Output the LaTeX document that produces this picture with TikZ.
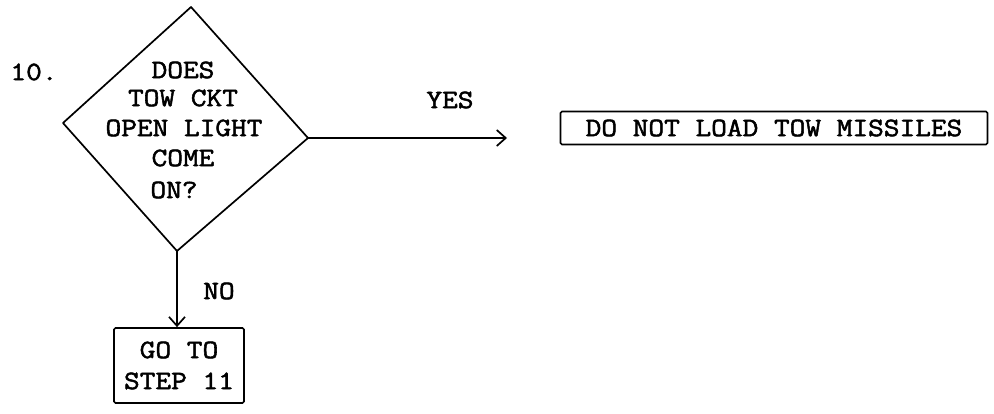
\documentclass[tikz,border=0pt]{standalone}
\usepackage{fontspec}
\setmonofont{Latin Modern Mono}[FakeStretch=1.15,FakeBold=2]
\usetikzlibrary{arrows.meta}
\begin{document}
\begin{tikzpicture}[x=1pt,y=-1pt,
  every node/.style={font=\ttfamily\fontsize{26.5}{31}\selectfont, inner sep=0pt},
  line/.style={line width=1.7pt, line join=round},
  arr/.style={line, -{Straight Barb[length=9pt,width=16pt,line width=1.7pt]}},
  boxed/.style={draw, line width=1.7pt, rounded corners=1.5pt}]
\useasboundingbox (0,0) rectangle (994,414);
% diamond
\coordinate (t) at (191,7);
\coordinate (l) at (63,123);
\coordinate (b) at (177,251);
\coordinate (r) at (308,138);
\draw[line] (t) -- (r) -- (b) -- (l) -- cycle;
\node (num) at (34,72) {10.};
\node (q1) at (183,70) {DOES};
\node (q2) at (183,98) {TOW CKT};
\node (q3) at (184,128) {OPEN LIGHT};
\node (q4) at (183,158) {COME};
\node (q5) at (174,190) {ON?};
% yes branch
\coordinate (yend) at (507,138);
\draw[arr] (r) -- (yend);
\node (yes) at (450,100) {YES};
\node[boxed, minimum width=427pt, minimum height=33pt] (stop) at (774,128) {DO NOT LOAD TOW MISSILES};
% no branch
\node[boxed, minimum width=130pt, minimum height=75pt, align=center] (go) at (179,365.5) {GO TO\\STEP 11};
\draw[arr] (b) -- (go.north -| b);
\node (no) at (219,291) {NO};
\end{tikzpicture}
\end{document}
